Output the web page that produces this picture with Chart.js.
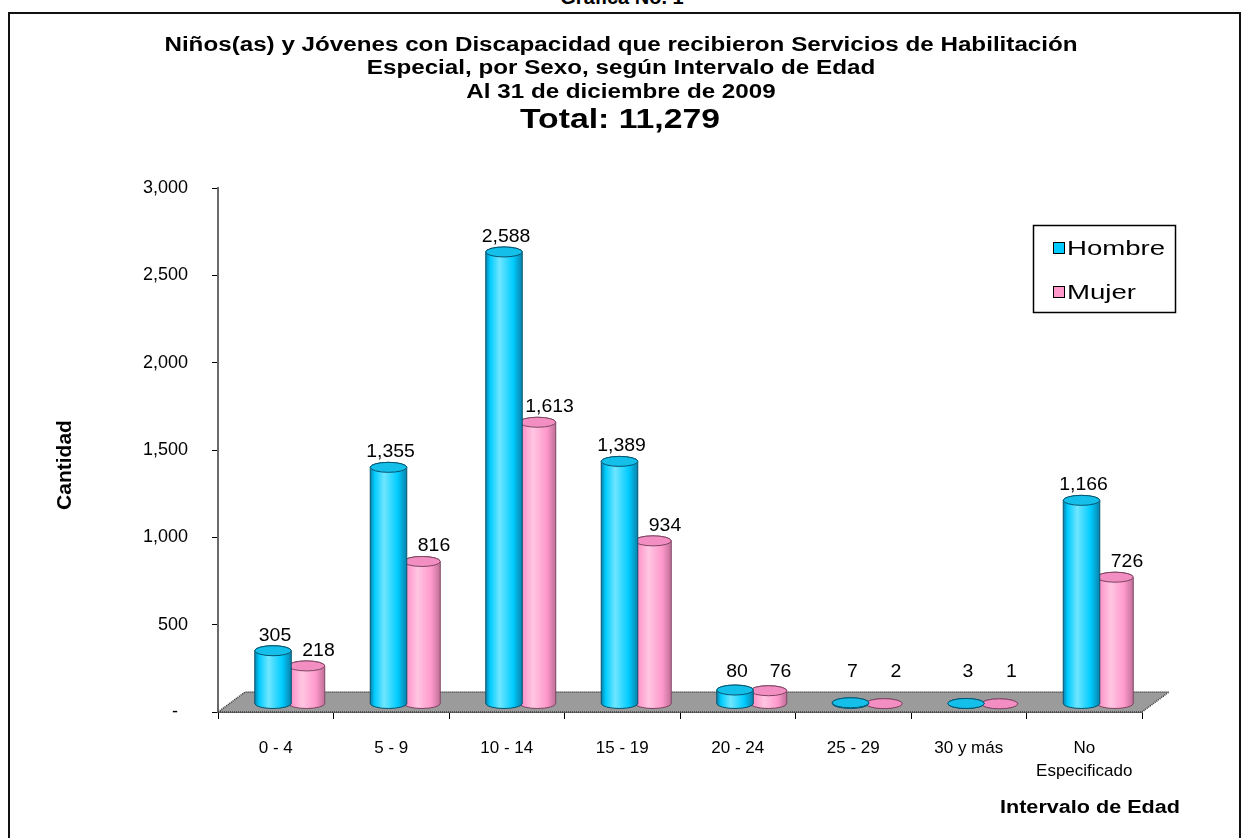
<!DOCTYPE html>
<html>
<head>
<meta charset="utf-8">
<script src="https://cdn.jsdelivr.net/npm/chart.js@4.4.1/dist/chart.umd.min.js"></script>
<style>
  body { margin: 0; background: #fff; width: 1244px; height: 838px; overflow: hidden; position: relative; font-family: 'Liberation Sans', Arial, sans-serif; }
  #head { position: absolute; left: 0; top: -13px; width: 1244px; text-align: center; font-weight: bold; font-size: 20px; line-height: 20px; }
  #frame { position: absolute; left: 8px; top: 12px; width: 1229px; height: 900px; border: 2px solid #111; }
  #wrap { position: absolute; left: 0; top: 0; width: 1244px; height: 838px; }
</style>
</head>
<body>
<div id="head">Gráfica No. 1</div>
<div id="frame"></div>
<div id="wrap"><canvas id="chart"></canvas></div>
<script>
const categories = ['0 - 4', '5 - 9', '10 - 14', '15 - 19', '20 - 24', '25 - 29', '30 y más', ['No', 'Especificado']];
const hombre = [305, 1355, 2588, 1389, 80, 7, 3, 1166];
const mujer = [218, 816, 1613, 934, 76, 2, 1, 726];
const seriesNames = ['Hombre', 'Mujer'];
const titleLines = ['Niños(as) y Jóvenes con Discapacidad que recibieron Servicios de Habilitación', 'Especial, por Sexo, según Intervalo de Edad', 'Al 31 de diciembre de 2009'];
const totalText = 'Total: 11,279';
const yTitle = 'Cantidad';
const xTitle = 'Intervalo de Edad';

const FONT = "'Liberation Sans', Arial, sans-serif";
const palettes = [
  { base: '#00ccff', light: '#6fe6ff', dark: '#0a82ad', top: '#14bfe9', edge: '#05546f', swatch: '#00ccff' },
  { base: '#ff99cc', light: '#ffc6e2', dark: '#bf6f98', top: '#f28ec2', edge: '#7d4561', swatch: '#ff99cc' }
];
const DEPTH_X = 27, DEPTH_Y = 20;
const BAR_DX = 14, BAR_DY = -8;

function fmt(v) { return v.toLocaleString('en-US'); }

// the source picture is a bit wider than tall, so its text is drawn stretched
function wideText(ctx, text, x, y, sx) {
  ctx.save();
  ctx.translate(x, y);
  ctx.scale(sx, 1);
  ctx.fillText(text, 0, 0);
  ctx.restore();
}

function cylinder(ctx, cx, top, bottom, w, pal) {
  const rx = w / 2, ry = 5, l = cx - rx, r = cx + rx;
  const g = ctx.createLinearGradient(l, 0, r, 0);
  g.addColorStop(0, pal.dark);
  g.addColorStop(0.12, pal.base);
  g.addColorStop(0.38, pal.light);
  g.addColorStop(0.75, pal.base);
  g.addColorStop(1, pal.dark);
  ctx.beginPath();
  ctx.moveTo(l, top);
  ctx.lineTo(l, bottom);
  ctx.ellipse(cx, bottom, rx, ry, 0, Math.PI, 0, true);
  ctx.lineTo(r, top);
  ctx.ellipse(cx, top, rx, ry, 0, 0, Math.PI, true);
  ctx.closePath();
  ctx.fillStyle = g;
  ctx.fill();
  ctx.lineWidth = 1;
  ctx.strokeStyle = pal.edge;
  ctx.stroke();
  ctx.beginPath();
  ctx.ellipse(cx, top, rx, ry, 0, 0, Math.PI * 2);
  ctx.fillStyle = pal.top;
  ctx.fill();
  ctx.stroke();
}

const scene = {
  id: 'scene',
  beforeDatasetsDraw(chart) {
    const { ctx, chartArea: a } = chart;
    ctx.save();
    ctx.beginPath();
    ctx.moveTo(a.left, a.bottom);
    ctx.lineTo(a.right, a.bottom);
    ctx.lineTo(a.right + DEPTH_X, a.bottom - DEPTH_Y);
    ctx.lineTo(a.left + DEPTH_X, a.bottom - DEPTH_Y);
    ctx.closePath();
    ctx.fillStyle = '#9b9b9b';
    ctx.fill();
    ctx.setLineDash([1, 1]);
    ctx.lineWidth = 1.5;
    ctx.strokeStyle = '#3a3a3a';
    ctx.stroke();
    ctx.restore();
  },
  afterDatasetsDraw(chart) {
    const { ctx } = chart;
    const labelDx = [2, 12];
    ctx.save();
    for (let i = 0; i < categories.length; i++) {
      for (const di of [1, 0]) {
        const el = chart.getDatasetMeta(di).data[i];
        cylinder(ctx, el.x + BAR_DX, el.y + BAR_DY, el.base + BAR_DY, el.width + 3, palettes[di]);
      }
    }
    ctx.font = '18px ' + FONT;
    ctx.fillStyle = '#000';
    ctx.textAlign = 'center';
    ctx.textBaseline = 'middle';
    chart.data.datasets.forEach((ds, di) => {
      chart.getDatasetMeta(di).data.forEach((el, i) => {
        const top = el.y + BAR_DY - 5;
        const y = Math.min(top - 10, el.base + BAR_DY - 31);
        wideText(ctx, fmt(ds.data[i]), el.x + BAR_DX + labelDx[di], y, 1.08);
      });
    });
    ctx.restore();
  },
  afterDraw(chart) {
    const { ctx } = chart;
    ctx.save();
    ctx.fillStyle = '#000';
    ctx.textAlign = 'center';
    ctx.textBaseline = 'middle';
    ctx.font = 'bold 20px ' + FONT;
    titleLines.forEach((t, i) => wideText(ctx, t, 621, 45 + i * 23.5, 1.21));
    ctx.font = 'bold 27px ' + FONT;
    wideText(ctx, totalText, 620, 121, 1.25);
    ctx.font = 'bold 18px ' + FONT;
    wideText(ctx, xTitle, 1090, 808, 1.2);
    ctx.save();
    ctx.translate(65, 465);
    ctx.rotate(-Math.PI / 2);
    ctx.font = 'bold 21px ' + FONT;
    ctx.fillText(yTitle, 0, 0);
    ctx.restore();
    // legend
    ctx.lineWidth = 1.5;
    ctx.strokeStyle = '#000';
    ctx.strokeRect(1033.5, 225.5, 142, 87);
    ctx.font = '20px ' + FONT;
    ctx.textAlign = 'left';
    seriesNames.forEach((n, i) => {
      const y = 248 + i * 44;
      ctx.fillStyle = palettes[i].swatch;
      ctx.fillRect(1053, y - 6, 12, 12);
      ctx.lineWidth = 1;
      ctx.strokeRect(1053.5, y - 5.5, 11, 11);
      ctx.fillStyle = '#000';
      wideText(ctx, n, 1067, y + 1, 1.38);
    });
    ctx.restore();
  }
};

new Chart(document.getElementById('chart'), {
  type: 'bar',
  data: {
    labels: categories,
    datasets: [
      { label: seriesNames[0], data: hombre, backgroundColor: 'rgba(0,0,0,0)' },
      { label: seriesNames[1], data: mujer, backgroundColor: 'rgba(0,0,0,0)' }
    ]
  },
  options: {
    responsive: true,
    maintainAspectRatio: false,
    animation: false,
    layout: { padding: { top: 188, right: 102, bottom: 0, left: 0 } },
    datasets: { bar: { categoryPercentage: 0.58, barPercentage: 1 } },
    plugins: { legend: { display: false }, tooltip: { enabled: false } },
    scales: {
      x: {
        afterFit(s) { s.height = 126; },
        grid: { display: true, drawOnChartArea: false, tickLength: 7, color: '#000', offset: true },
        border: { color: '#6a6a6a', width: 2, dash: [2, 1] },
        ticks: { padding: 18, color: '#000', maxRotation: 0, autoSkip: false, font: { family: FONT, size: 17, lineHeight: 1.35 } }
      },
      y: {
        min: 0, max: 3000,
        afterFit(s) { s.width = 218; },
        grid: { display: true, drawOnChartArea: false, tickLength: 6, color: '#000' },
        border: { color: '#6a6a6a', width: 2, dash: [2, 1] },
        ticks: { stepSize: 500, padding: 24, color: '#000', font: { family: FONT, size: 18 }, callback: (v) => v === 0 ? '-  ' : fmt(v) }
      }
    }
  },
  plugins: [scene]
});
</script>
</body>
</html>
